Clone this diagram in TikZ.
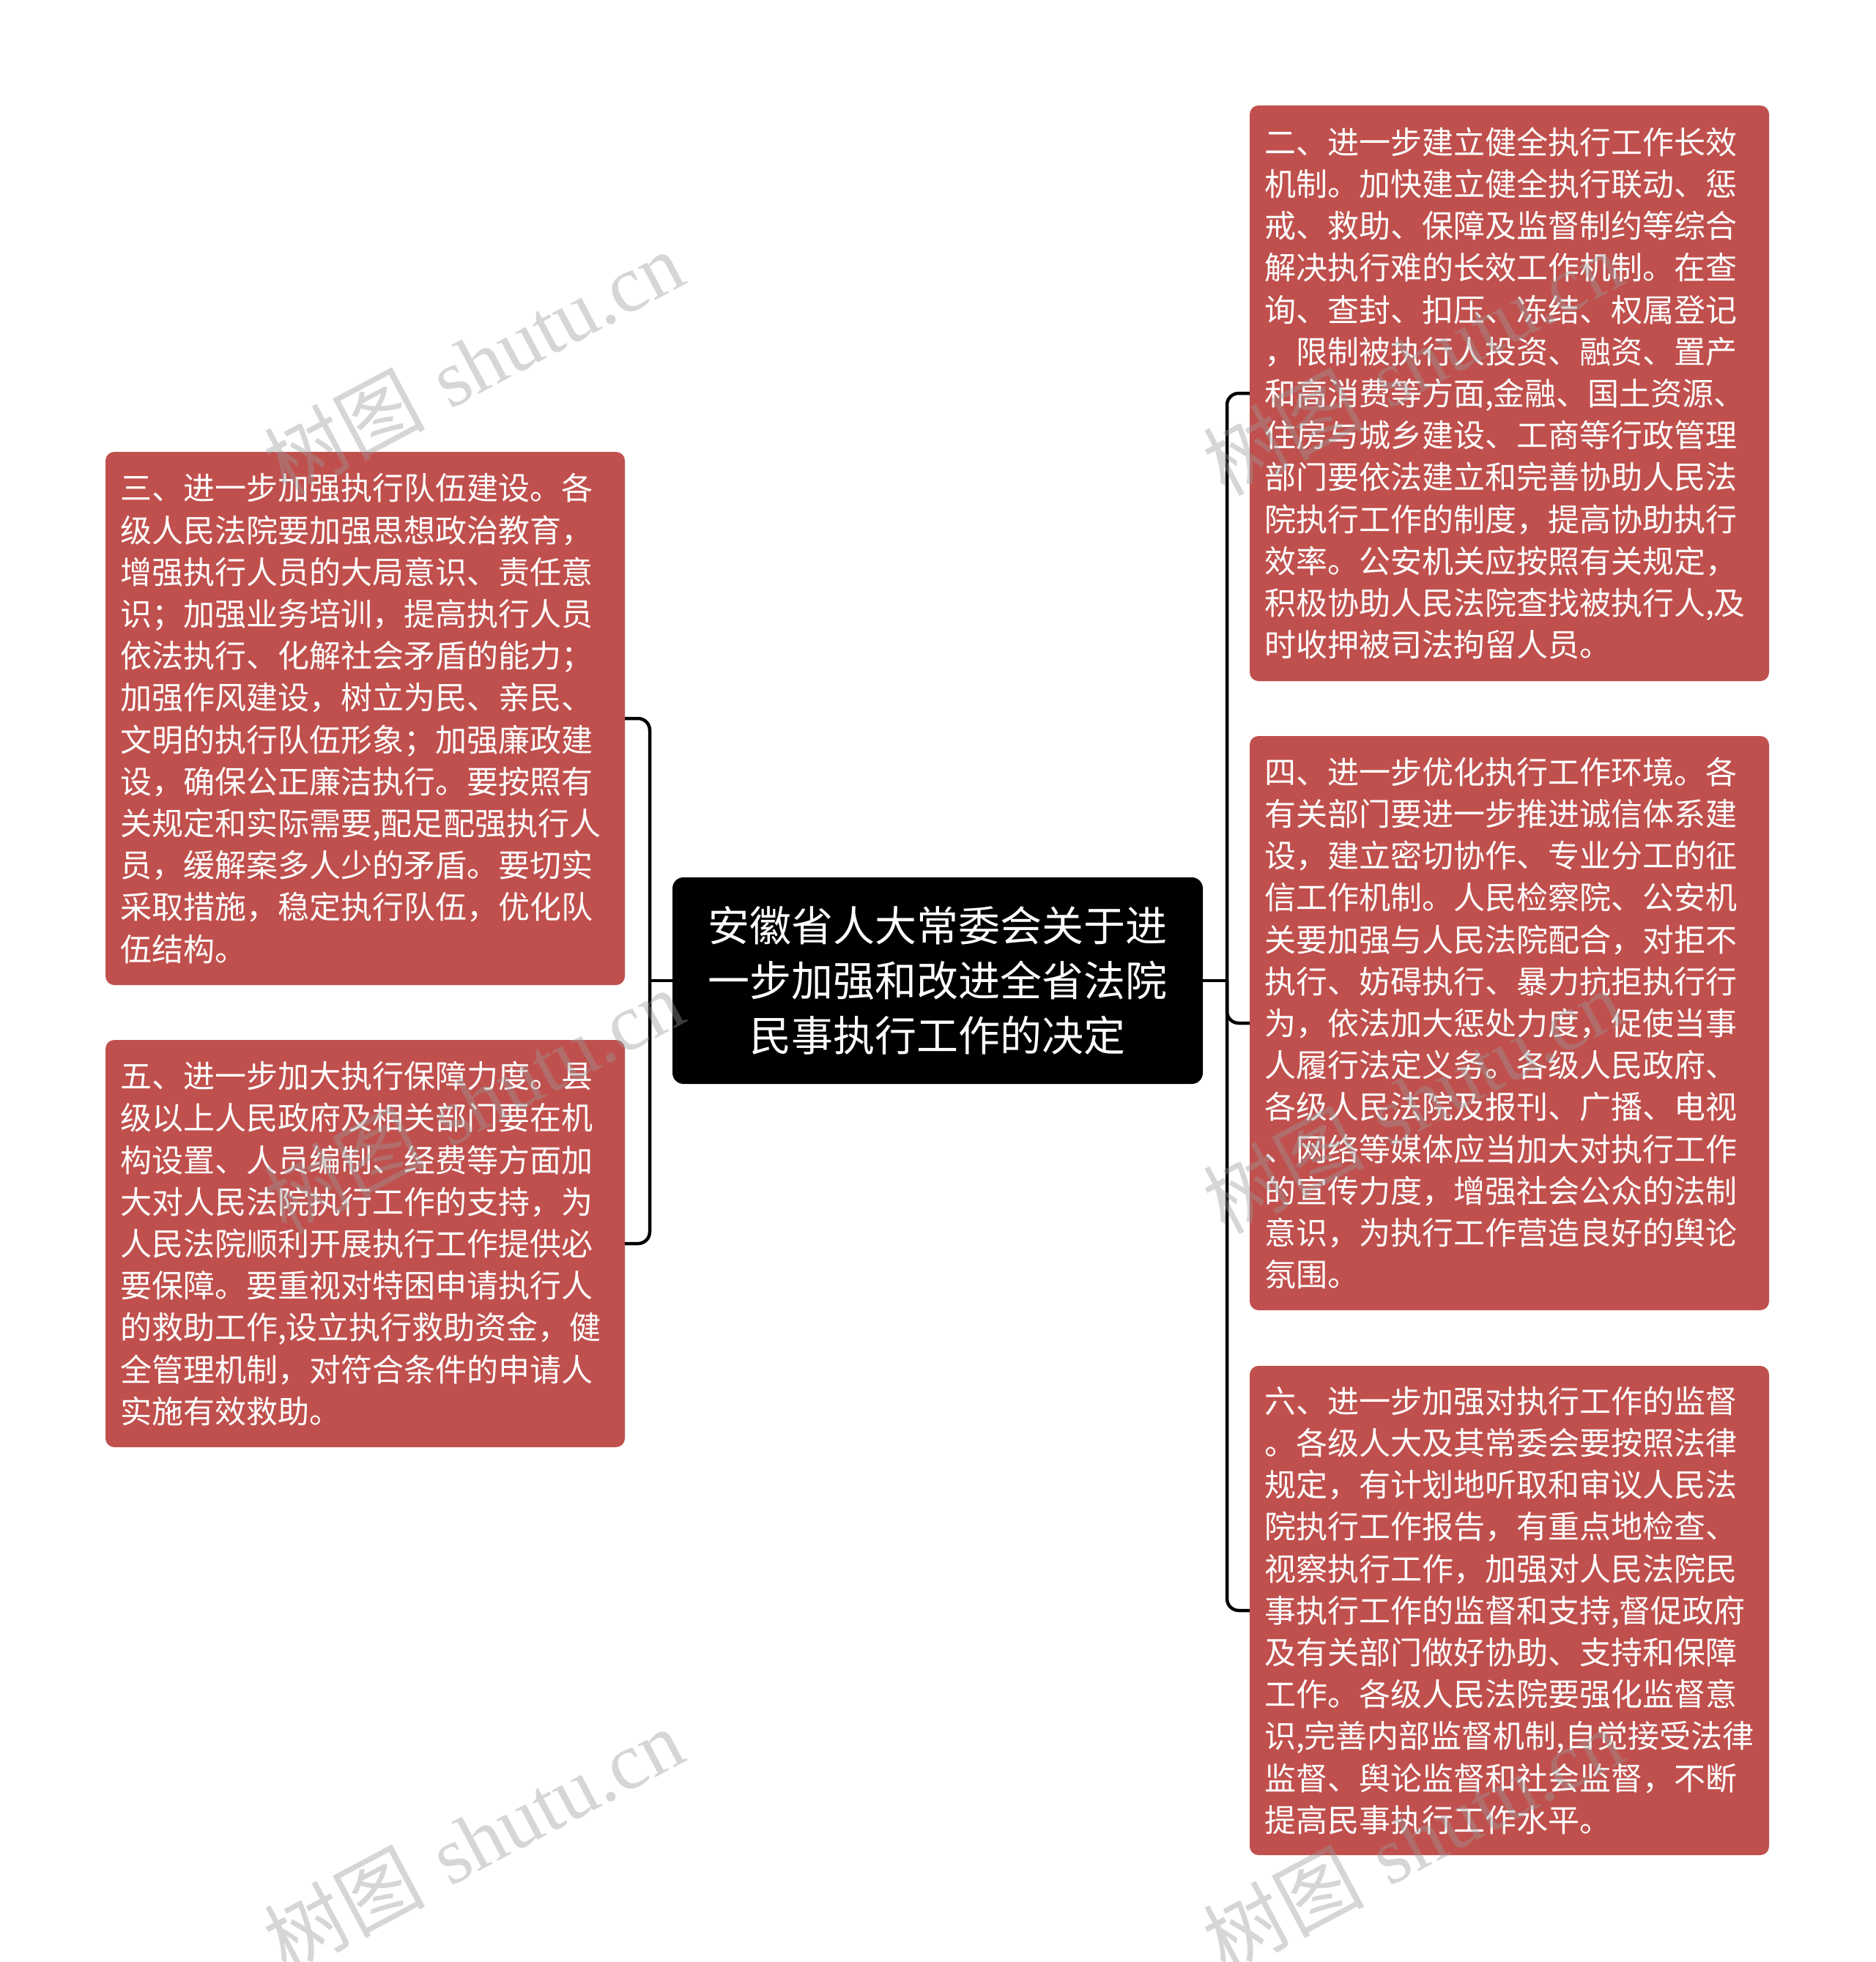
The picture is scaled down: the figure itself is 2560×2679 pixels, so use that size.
\documentclass[tikz,border=0pt]{standalone}
\usepackage{fontspec}
\newfontfamily\cjk{Noto Sans CJK SC}
\newfontfamily\wmlatin{Liberation Serif}
\definecolor{boxred}{HTML}{C0504D}
\definecolor{wmgray}{HTML}{9A9A9A}
\begin{document}
\begin{tikzpicture}[x=1pt,y=-1pt,
  leaf/.style={fill=boxred, rounded corners=12pt, text=white,
    font=\cjk\fontsize{43}{57.2}\selectfont, align=left,
    text width=669pt, inner xsep=20pt, inner ysep=0pt, minimum width=709pt},
  root/.style={fill=black, rounded corners=15pt, text=white,
    font=\cjk\fontsize{57}{75}\selectfont, align=center,
    minimum width=724pt, minimum height=282pt, inner sep=0pt},
  conn/.style={line width=4.5pt, rounded corners=16pt, black},
  wm/.style={text=wmgray, opacity=0.4, rotate=28, inner sep=0pt}
]
\useasboundingbox (0,0) rectangle (2560,2679);
\fill[white] (0,0) rectangle (2560,2679);

% central node
\node[root] (C) at (1280,1339) {安徽省人大常委会关于进\\一步加强和改进全省法院\\民事执行工作的决定};

% left nodes
\node[leaf, minimum height=728pt] (L1) at (498.5,981) {三、进一步加强执行队伍建设。各\\级人民法院要加强思想政治教育，\\增强执行人员的大局意识、责任意\\识；加强业务培训，提高执行人员\\依法执行、化解社会矛盾的能力；\\加强作风建设，树立为民、亲民、\\文明的执行队伍形象；加强廉政建\\设，确保公正廉洁执行。要按照有\\关规定和实际需要,配足配强执行人\\员，缓解案多人少的矛盾。要切实\\采取措施，稳定执行队伍，优化队\\伍结构。};

\node[leaf, minimum height=556pt] (L2) at (498.5,1698) {五、进一步加大执行保障力度。县\\级以上人民政府及相关部门要在机\\构设置、人员编制、经费等方面加\\大对人民法院执行工作的支持，为\\人民法院顺利开展执行工作提供必\\要保障。要重视对特困申请执行人\\的救助工作,设立执行救助资金，健\\全管理机制，对符合条件的申请人\\实施有效救助。};

% right nodes
\node[leaf, minimum height=786pt] (R1) at (2060.5,537) {二、进一步建立健全执行工作长效\\机制。加快建立健全执行联动、惩\\戒、救助、保障及监督制约等综合\\解决执行难的长效工作机制。在查\\询、查封、扣压、冻结、权属登记\\，限制被执行人投资、融资、置产\\和高消费等方面,金融、国土资源、\\住房与城乡建设、工商等行政管理\\部门要依法建立和完善协助人民法\\院执行工作的制度，提高协助执行\\效率。公安机关应按照有关规定，\\积极协助人民法院查找被执行人,及\\时收押被司法拘留人员。};

\node[leaf, minimum height=784pt] (R2) at (2060.5,1397) {四、进一步优化执行工作环境。各\\有关部门要进一步推进诚信体系建\\设，建立密切协作、专业分工的征\\信工作机制。人民检察院、公安机\\关要加强与人民法院配合，对拒不\\执行、妨碍执行、暴力抗拒执行行\\为，依法加大惩处力度，促使当事\\人履行法定义务。各级人民政府、\\各级人民法院及报刊、广播、电视\\、网络等媒体应当加大对执行工作\\的宣传力度，增强社会公众的法制\\意识，为执行工作营造良好的舆论\\氛围。};

\node[leaf, minimum height=668pt] (R3) at (2060.5,2199) {六、进一步加强对执行工作的监督\\。各级人大及其常委会要按照法律\\规定，有计划地听取和审议人民法\\院执行工作报告，有重点地检查、\\视察执行工作，加强对人民法院民\\事执行工作的监督和支持,督促政府\\及有关部门做好协助、支持和保障\\工作。各级人民法院要强化监督意\\识,完善内部监督机制,自觉接受法律\\监督、舆论监督和社会监督，不断\\提高民事执行工作水平。};

% connectors
\coordinate (lb) at (887,1339);
\coordinate (rb) at (1675,1339);
\draw[conn] (C.west) -- (lb);
\draw[conn] (lb) |- (L1.east);
\draw[conn] (lb) |- (L2.east);
\draw[conn] (C.east) -- (rb);
\draw[conn] (rb) |- (R1.west);
\draw[conn] (rb) |- (R2.west);
\draw[conn] (rb) |- (R3.west);

% watermarks
\foreach \dx/\dy [count=\i] in {0/0, 0/1008, 0/2017, 1282/0, 1282/1008, 1282/2017}{
  \node[wm] (wm\i) at (646+\dx,495+\dy) {\fontsize{110}{110}\selectfont{\cjk 树图} {\wmlatin shutu.cn}};
}
\end{tikzpicture}
\end{document}
